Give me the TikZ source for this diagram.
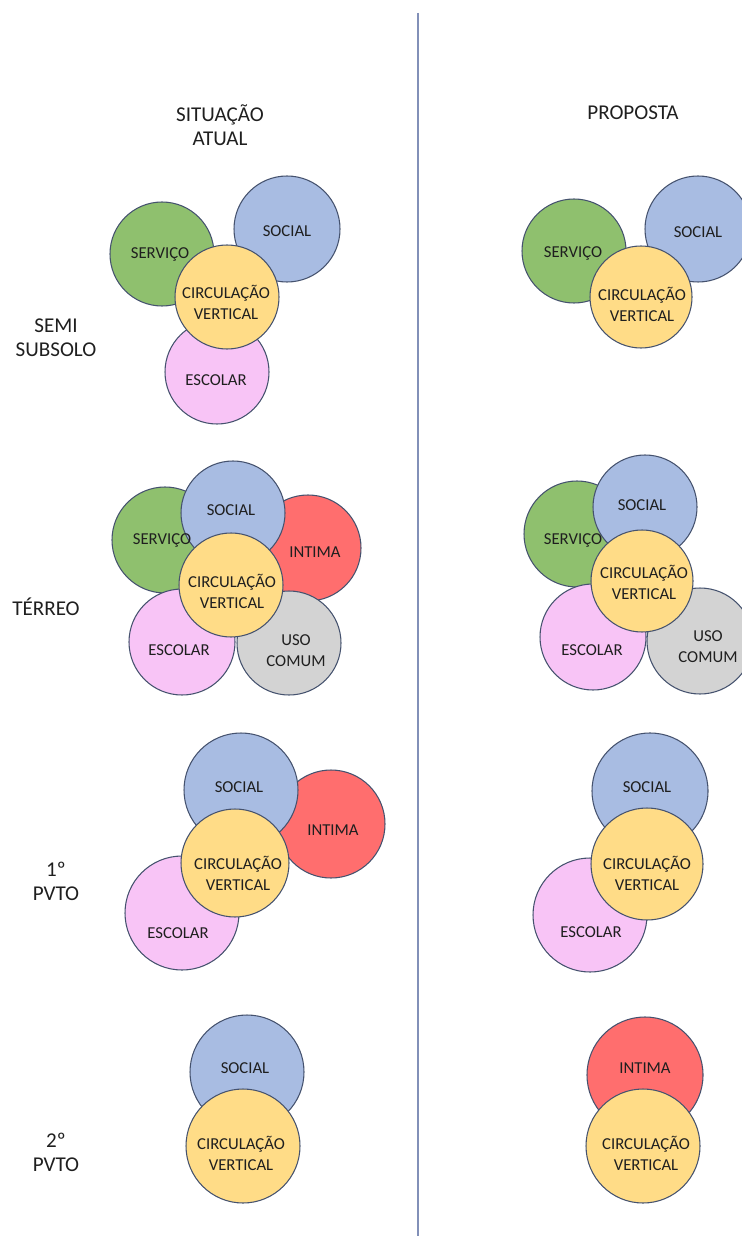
\documentclass[tikz,border=0pt]{standalone}
\usepackage{fontspec}
\setmainfont{Carlito}
\usepackage{tikz}

\definecolor{verde}{HTML}{8FC06E}
\definecolor{azul}{HTML}{A8BCE2}
\definecolor{amarelo}{HTML}{FFDC87}
\definecolor{rosa}{HTML}{F8C4F6}
\definecolor{vermelho}{HTML}{FF6E6E}
\definecolor{cinza}{HTML}{D3D3D3}
\definecolor{contorno}{HTML}{45526E}
\definecolor{divisa}{HTML}{8290B8}
\definecolor{texto}{HTML}{1F1F1F}

\begin{document}
\begin{tikzpicture}[x=0.02cm, y=0.02cm,
    zona/.style={draw=contorno, line width=0.6pt},
    rotulo/.style={text=texto, align=center, inner sep=0pt, font=\fontsize{9.5}{11.9}\selectfont},
    titulo/.style={text=texto, align=center, inner sep=0pt, font=\fontsize{12}{13.8}\selectfont}]
    \useasboundingbox (0,0) rectangle (742,-1236);
    \clip (0,0) rectangle (742,-1236);

    % Divisao
    \coordinate (topo) at (418,-13);
    \coordinate (base) at (418,-1236);
    \draw[divisa, line width=1.3pt] (topo) -- (base);

    % Titulos
    \node[titulo] (atual) at (220,-125) {SITUAÇÃO\\ATUAL};
    \node[titulo] (proposta) at (633,-113) {PROPOSTA};
    \node[titulo] (semi) at (56,-338) {SEMI\\SUBSOLO};
    \node[titulo] (terreo) at (46,-607) {TÉRREO};
    \node[titulo] (pvto1) at (56,-881) {1º\\PVTO};
    \node[titulo] (pvto2) at (56,-1152) {2º\\PVTO};

    % Semi subsolo - atual
    \draw[zona, fill=verde] (162,-254) circle (52);
    \draw[zona, fill=azul] (287,-229) circle (53);
    \draw[zona, fill=rosa] (217,-372) circle (52);
    \draw[zona, fill=amarelo] (227,-297) circle (52);
    \node[rotulo] (ssA-serv) at (160,-254) {SERVIÇO};
    \node[rotulo] (ssA-soc) at (287,-231) {SOCIAL};
    \node[rotulo] (ssA-esc) at (216,-380) {ESCOLAR};
    \node[rotulo] (ssA-circ) at (226,-302) {CIRCULAÇÃO\\VERTICAL};

    % Semi subsolo - proposta
    \draw[zona, fill=verde] (574,-251) circle (52);
    \draw[zona, fill=azul] (698,-229) circle (53);
    \draw[zona, fill=amarelo] (641,-297) circle (51);
    \node[rotulo] (ssP-serv) at (573,-253) {SERVIÇO};
    \node[rotulo] (ssP-soc) at (698,-232) {SOCIAL};
    \node[rotulo] (ssP-circ) at (642,-304) {CIRCULAÇÃO\\VERTICAL};

    % Terreo - atual
    \draw[zona, fill=verde] (165,-540) circle (53);
    \draw[zona, fill=vermelho] (308,-548) circle (53);
    \draw[zona, fill=azul] (233,-513) circle (52);
    \draw[zona, fill=rosa] (182,-642) circle (53);
    \draw[zona, fill=cinza] (289,-643) circle (52);
    \draw[zona, fill=amarelo] (231,-585) circle (52);
    \node[rotulo] (trA-serv) at (162,-540) {SERVIÇO};
    \node[rotulo] (trA-soc) at (231,-510) {SOCIAL};
    \node[rotulo] (trA-int) at (315,-552) {INTIMA};
    \node[rotulo] (trA-esc) at (179,-650) {ESCOLAR};
    \node[rotulo] (trA-uso) at (296,-651) {USO\\COMUM};
    \node[rotulo] (trA-circ) at (232,-591) {CIRCULAÇÃO\\VERTICAL};

    % Terreo - proposta
    \draw[zona, fill=verde] (577,-534) circle (53);
    \draw[zona, fill=azul] (645,-507) circle (52);
    \draw[zona, fill=rosa] (593,-637) circle (53);
    \draw[zona, fill=cinza] (700,-641) circle (53);
    \draw[zona, fill=amarelo] (642,-581) circle (51);
    \node[rotulo] (trP-serv) at (573,-540) {SERVIÇO};
    \node[rotulo] (trP-soc) at (642,-505) {SOCIAL};
    \node[rotulo] (trP-esc) at (592,-650) {ESCOLAR};
    \node[rotulo] (trP-uso) at (708,-647) {USO\\COMUM};
    \node[rotulo] (trP-circ) at (644,-582) {CIRCULAÇÃO\\VERTICAL};

    % 1o pavimento - atual
    \draw[zona, fill=vermelho] (331,-824) circle (54);
    \draw[zona, fill=azul] (241,-790) circle (57);
    \draw[zona, fill=rosa] (182,-913) circle (57);
    \draw[zona, fill=amarelo] (235,-863) circle (54);
    \node[rotulo] (p1A-soc) at (239,-787) {SOCIAL};
    \node[rotulo] (p1A-int) at (333,-830) {INTIMA};
    \node[rotulo] (p1A-esc) at (178,-933) {ESCOLAR};
    \node[rotulo] (p1A-circ) at (238,-873) {CIRCULAÇÃO\\VERTICAL};

    % 1o pavimento - proposta
    \draw[zona, fill=azul] (650,-791) circle (58);
    \draw[zona, fill=rosa] (590,-915) circle (57);
    \draw[zona, fill=amarelo] (647,-864) circle (56);
    \node[rotulo] (p1P-soc) at (647,-787) {SOCIAL};
    \node[rotulo] (p1P-esc) at (591,-932) {ESCOLAR};
    \node[rotulo] (p1P-circ) at (647,-873) {CIRCULAÇÃO\\VERTICAL};

    % 2o pavimento - atual
    \draw[zona, fill=azul] (247,-1072) circle (57);
    \draw[zona, fill=amarelo] (243,-1146) circle (57);
    \node[rotulo] (p2A-soc) at (245,-1068) {SOCIAL};
    \node[rotulo] (p2A-circ) at (241,-1153) {CIRCULAÇÃO\\VERTICAL};

    % 2o pavimento - proposta
    \draw[zona, fill=vermelho] (645,-1075) circle (58);
    \draw[zona, fill=amarelo] (643,-1146) circle (57);
    \node[rotulo] (p2P-int) at (645,-1068) {INTIMA};
    \node[rotulo] (p2P-circ) at (646,-1153) {CIRCULAÇÃO\\VERTICAL};
\end{tikzpicture}
\end{document}
